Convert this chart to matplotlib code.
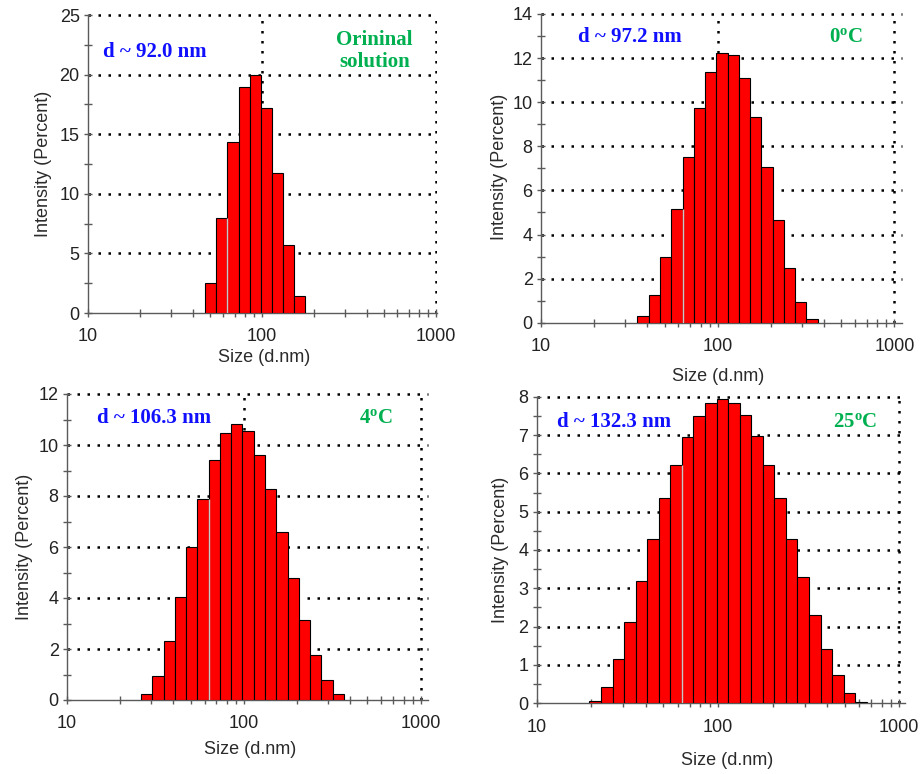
import numpy as np
import matplotlib
matplotlib.use("Agg")
import matplotlib.pyplot as plt
from matplotlib.ticker import MultipleLocator, LogLocator, NullFormatter, FixedLocator

plt.rcParams['font.family'] = ['Liberation Sans', 'DejaVu Sans']
plt.rcParams['mathtext.fontset'] = 'custom'
plt.rcParams['mathtext.rm'] = 'Liberation Serif:bold'
plt.rcParams['mathtext.it'] = 'Liberation Serif:bold'
plt.rcParams['mathtext.bf'] = 'Liberation Serif:bold'

# ---- data (Malvern size classes, d.nm, and intensity %) ----
sizes_orig = [50.75, 58.77, 68.06, 78.82, 91.28, 105.7, 122.4, 141.8, 164.2]
int_orig = [2.52, 7.98, 14.36, 18.98, 19.93, 17.16, 11.73, 5.71, 1.40]

sizes_0C = [37.84, 43.82, 50.75, 58.77, 68.06, 78.82, 91.28, 105.7, 122.4,
            141.8, 164.2, 190.1, 220.2, 255.0, 295.3, 342.0]
int_0C = [0.30, 1.25, 2.96, 5.17, 7.53, 9.72, 11.37, 12.22, 12.14,
          11.11, 9.33, 7.05, 4.64, 2.49, 0.92, 0.15]

sizes_4C = [28.21, 32.67, 37.84, 43.82, 50.75, 58.77, 68.06, 78.82, 91.28,
            105.7, 122.4, 141.8, 164.2, 190.1, 220.2, 255.0, 295.3, 342.0]
int_4C = [0.24, 0.95, 2.33, 4.05, 6.01, 7.87, 9.41, 10.47, 10.81,
          10.54, 9.59, 8.29, 6.59, 4.78, 3.12, 1.78, 0.77, 0.24]

sizes_25C = [21.04, 24.36, 28.21, 32.67, 37.84, 43.82, 50.75, 58.77, 68.06,
             78.82, 91.28, 105.7, 122.4, 141.8, 164.2, 190.1, 220.2, 255.0,
             295.3, 342.0, 396.1, 458.7, 531.2, 615.1]
int_25C = [0.07, 0.43, 1.15, 2.12, 3.20, 4.30, 5.35, 6.23, 6.94, 7.50, 7.84,
           7.93, 7.84, 7.53, 6.98, 6.23, 5.35, 4.30, 3.30, 2.30, 1.42, 0.74,
           0.26, 0.04]

d_labels = ["d ~ 92.0 nm", "d ~ 97.2 nm", "d ~ 106.3 nm", "d ~ 132.3 nm"]
cond_labels = ["Orininal\nsolution", r"0$^{\rm o}$C", r"4$^{\rm o}$C", r"25$^{\rm o}$C"]
y_max = [25, 14, 12, 8]
y_major = [5, 2, 2, 1]
x_ticks = [10, 100, 1000]
x_ticklabels = ['10', '100', '1000']
x_label = "Size (d.nm)"
y_label = "Intensity (Percent)"

W, H = 924, 774
fig = plt.figure(figsize=(W / 100, H / 100), dpi=100)

# layout in pixels: left, right, top, bottom, xlim
layout = [
    dict(l=88, r=437.2, t=15, b=313, xlim=(10, 1015),
         dpos=(0.042, 0.877), cpos=(0.821, 0.879), xl=(0.503, -0.151), yl=(-0.128, 0.502)),
    dict(l=541, r=901.7, t=14, b=322.7, xlim=(10, 1100),
         dpos=(0.103, 0.926), cpos=(0.846, 0.926), xl=(0.492, -0.175), yl=(-0.114, 0.505)),
    dict(l=67, r=428, t=394, b=700, xlim=(10, 1100),
         dpos=(0.082, 0.920), cpos=(0.855, 0.920), xl=(0.506, -0.163), yl=(-0.117, 0.50)),
    dict(l=536.7, r=905, t=396.7, b=703.3, xlim=(10, 1075),
         dpos=(0.056, 0.918), cpos=(0.864, 0.918), xl=(0.518, -0.186), yl=(-0.098, 0.50)),
]

datasets = [(sizes_orig, int_orig), (sizes_0C, int_0C), (sizes_4C, int_4C), (sizes_25C, int_25C)]

spine_col = '#5a5a5a'
dot_style = (0, (1, 3.0))
for i, (lay, (sz, iv)) in enumerate(zip(layout, datasets)):
    ax = fig.add_axes([lay['l'] / W, 1 - lay['b'] / H,
                       (lay['r'] - lay['l']) / W, (lay['b'] - lay['t']) / H])
    ax.set_xscale('log')
    sz = np.array(sz)
    iv = np.array(iv)
    ratio = np.sqrt(sz[1:] / sz[:-1]).mean()
    inner = np.sqrt(sz[1:] * sz[:-1])
    edges = np.concatenate([[sz[0] / ratio], inner, [sz[-1] * ratio]])
    ax.bar(edges[:-1], iv, width=np.diff(edges), align='edge',
           color='#ff0000', edgecolor='black', linewidth=0.8, zorder=3)
    # light-coloured bar boundary near 63 nm (between 58.77 and 68.06 classes)
    j = np.where(np.isclose(sz, 68.06))[0]
    if len(j) and j[0] > 0:
        k = j[0]
        ax.vlines(edges[k], 0, min(iv[k], iv[k - 1]), colors='#c8c8c8', linewidth=1.0, zorder=4)

    ax.set_xlim(*lay['xlim'])
    ax.set_ylim(0, y_max[i])

    for s in ['top', 'right']:
        ax.spines[s].set_visible(False)
    for s in ['left', 'bottom']:
        ax.spines[s].set_color(spine_col)
        ax.spines[s].set_linewidth(1.0)

    ax.yaxis.set_major_locator(MultipleLocator(y_major[i]))
    ax.yaxis.set_minor_locator(MultipleLocator(y_major[i] / 2))
    ax.xaxis.set_major_locator(FixedLocator(x_ticks))
    ax.xaxis.set_minor_locator(LogLocator(base=10, subs=np.arange(2, 10), numticks=20))
    ax.xaxis.set_minor_formatter(NullFormatter())
    ax.set_xticklabels(x_ticklabels)

    ax.tick_params(which='both', direction='inout', color=spine_col, width=1.0,
                   labelsize=13, labelcolor='#222222')
    ax.tick_params(which='major', length=6)
    ax.tick_params(which='minor', length=6)
    ax.tick_params(axis='x', pad=8)
    ax.tick_params(axis='y', pad=3)

    # grid: dotted lines
    for yv in np.arange(y_major[i], y_max[i] + 0.001, y_major[i]):
        ax.axhline(yv, color='black', linewidth=1.8, linestyle=dot_style, zorder=1, clip_on=False)
    for xv in [100, 1000]:
        ax.axvline(xv, color='black', linewidth=1.8, linestyle=dot_style, zorder=1)

    ax.set_xlabel(x_label, fontsize=13, color='#2b2b2b')
    ax.set_ylabel(y_label, fontsize=13, color='#2b2b2b')
    ax.xaxis.set_label_coords(*lay['xl'])
    ax.xaxis.label.set_va('center')
    ax.yaxis.set_label_coords(*lay['yl'])
    ax.yaxis.label.set_va('center')

    ax.text(lay['dpos'][0], lay['dpos'][1], d_labels[i], transform=ax.transAxes,
            fontsize=15, fontweight='bold', family='Liberation Serif', color='#1010ff',
            ha='left', va='center', zorder=6)
    ax.text(lay['cpos'][0], lay['cpos'][1], cond_labels[i], transform=ax.transAxes,
            fontsize=15, fontweight='bold', family='Liberation Serif', color='#00b050',
            ha='center', va='center', multialignment='center', linespacing=1.15, zorder=6)

fig.savefig('out.png', dpi=100)
